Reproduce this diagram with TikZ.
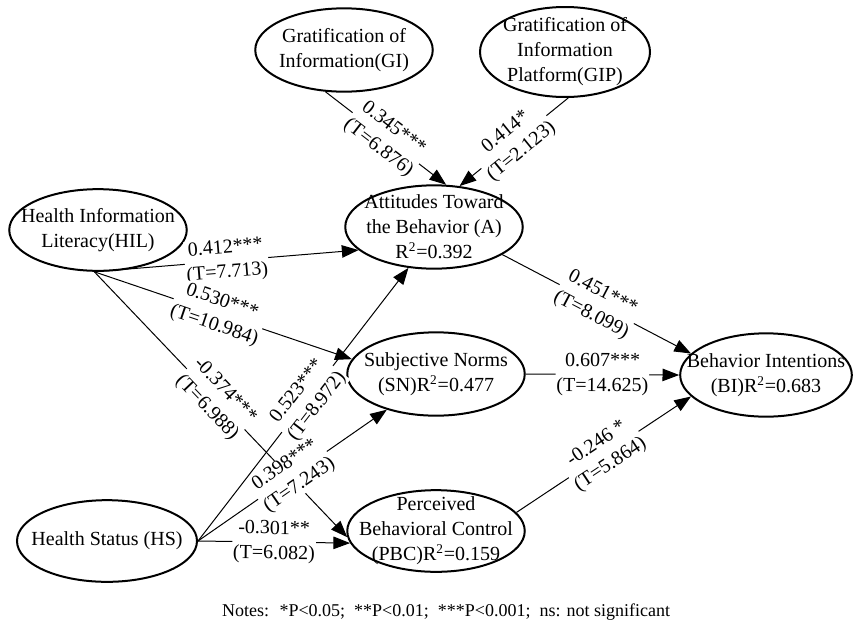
\documentclass[tikz,border=0pt]{standalone}
\usepackage{fontspec}
\setmainfont{Liberation Serif}
\usepackage{tikz}
\usetikzlibrary{shapes.geometric,arrows.meta}

\begin{document}
\begin{tikzpicture}[x=0.6pt, y=0.6pt, font=\fontsize{12}{15}\selectfont,
  var/.style={ellipse, draw, very thick, align=center, inner sep=-40pt, minimum width=106.5pt, minimum height=50pt},
  eff/.style={semithick, -{Triangle[length=10pt, width=7.5pt]}},
  coef/.style={midway, sloped, fill=white, align=center, inner sep=0.5pt}]
  \useasboundingbox (0,0) rectangle (853,624);
  \node (GI) [var] at (344,574) {Gratification of\\Information(GI)};
  \node (GIP) [var, minimum width=102pt, minimum height=54pt] at (565,572) {Gratification of\\Information\\Platform(GIP)};
  \node (A) [var] at (434,397) {Attitudes Toward\\the Behavior (A)\\R\textsuperscript{2}=0.392};
  \node (HIL) [var, minimum height=49pt] at (98,394) {Health Information\\Literacy(HIL)};
  \node (SN) [var] at (436,250) {Subjective Norms\\(SN)R\textsuperscript{2}=0.477};
  \node (BI) [var, minimum width=103pt] at (766,249) {Behavior Intentions\\(BI)R\textsuperscript{2}=0.683};
  \node (PBC) [var, minimum height=49pt] at (436,93) {Perceived\\Behavioral Control\\(PBC)R\textsuperscript{2}=0.159};
  \node (HS) [var, minimum width=108pt, minimum height=49pt] at (107,83) {Health Status (HS)};
  \node (notes) at (446,12) {\fontsize{10.8}{13}\selectfont Notes:~ *P<0.05;~ **P<0.01;~ ***P<0.001;~ ns: not significant};

  \draw[eff] (GI.246) -- (A.74) node[coef] {0.345***\\(T=6.876)};
  \draw[eff] (GIP.274) -- (A.58) node[coef] {0.414*\\(T=2.123)};
  \draw[eff] (HIL.265) -- (A.197) node[coef] {0.412***\\(T=7.713)};
  \draw[eff] (HIL.265) -- (SN.170) node[coef, pos=0.48] {0.530***\\(T=10.984)};
  \draw[eff] (HIL.265) -- (PBC.184) node[coef, pos=0.48] {-0.374***\\(T=6.988)};
  \draw[eff] (HS.east) -- (A.238) node[coef, pos=0.52] {0.523***\\(T=8.972)};
  \draw[eff] (HS.east) -- (SN.216) node[coef] {0.398***\\(T=7.243)};
  \draw[eff] (HS.east) -- (PBC.188) node[coef] {-0.301**\\(T=6.082)};
  \draw[eff] (A.-22) -- (BI.164) node[coef] {0.451***\\(T=8.099)};
  \draw[eff] (SN.east) -- (BI.west) node[coef] {0.607***\\(T=14.625)};
  \draw[eff] (PBC.13) -- (BI.196) node[coef] {-0.246 *\\(T=5.864)};
\end{tikzpicture}
\end{document}
